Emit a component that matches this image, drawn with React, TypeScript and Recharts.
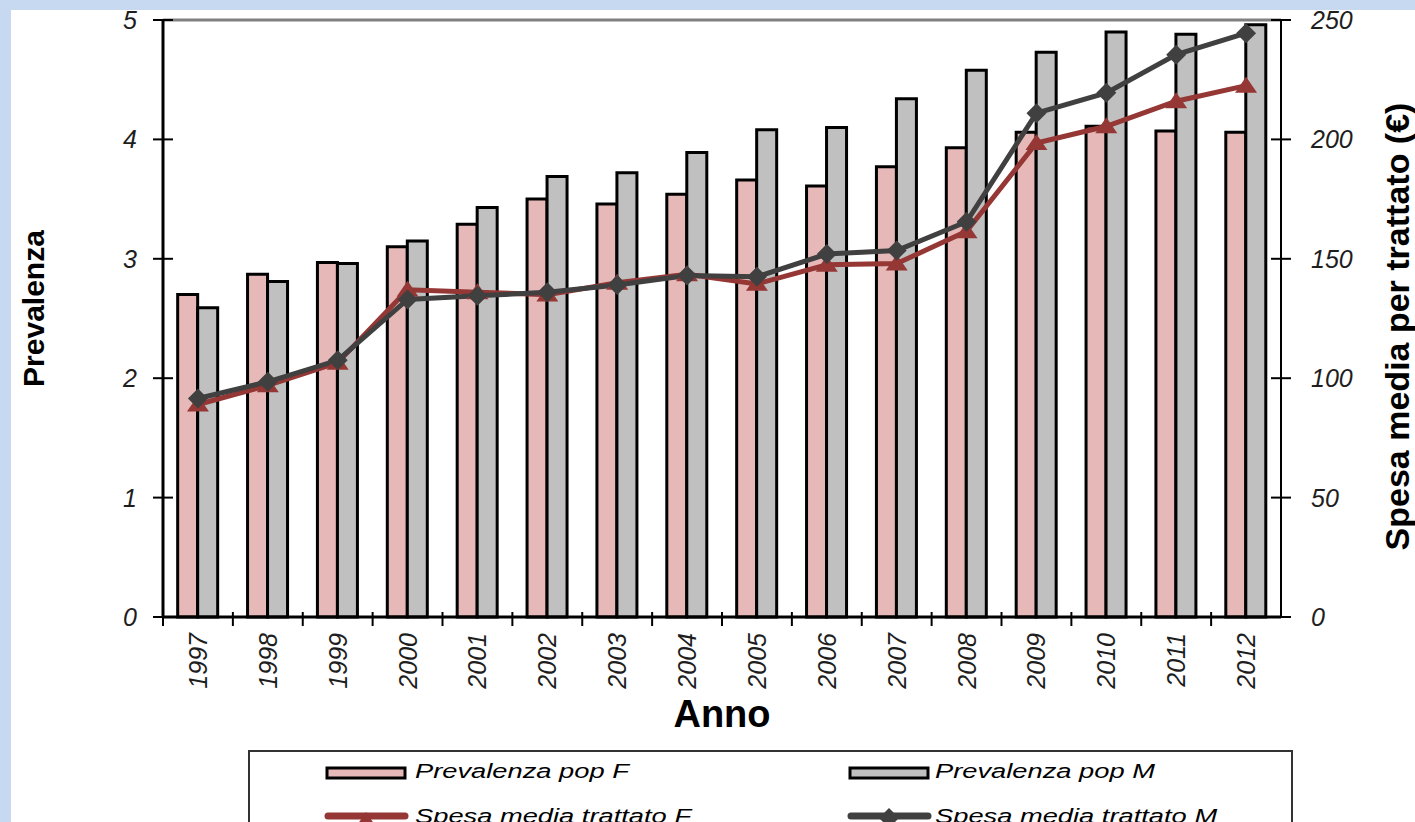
import React from "react";
import {
  ComposedChart,
  Bar,
  Line,
  XAxis,
  YAxis,
  ReferenceLine,
  Legend,
} from "recharts";

// Anni di osservazione
const years = [
  "1997", "1998", "1999", "2000", "2001", "2002", "2003", "2004",
  "2005", "2006", "2007", "2008", "2009", "2010", "2011", "2012",
];

// Prevalenza (%) per sesso
const prevalenzaF = [
  2.7, 2.87, 2.97, 3.1, 3.29, 3.5, 3.46, 3.54,
  3.66, 3.61, 3.77, 3.93, 4.06, 4.11, 4.07, 4.06,
];
const prevalenzaM = [
  2.59, 2.81, 2.96, 3.15, 3.43, 3.69, 3.72, 3.89,
  4.08, 4.1, 4.34, 4.58, 4.73, 4.9, 4.88, 4.96,
];

// Spesa media per trattato (€) per sesso
const spesaF = [
  89, 97, 106.5, 137, 136, 135, 140, 143.5,
  139.5, 147.5, 148, 161.5, 198.5, 205.5, 216, 222.5,
];
const spesaM = [
  91.5, 98.5, 107.5, 133, 134.5, 136, 139, 143,
  142.5, 152, 153.5, 165.5, 211, 219.5, 235.5, 244.5,
];

const leftTicks = [0, 1, 2, 3, 4, 5];
const rightTicks = [0, 50, 100, 150, 200, 250];

const seriesNames = {
  prevF: "Prevalenza pop F",
  prevM: "Prevalenza pop M",
  spesaF: "Spesa media trattato F",
  spesaM: "Spesa media trattato M",
};

const data = years.map((anno, i) => ({
  anno,
  prevF: prevalenzaF[i],
  prevM: prevalenzaM[i],
  spesaF: spesaF[i],
  spesaM: spesaM[i],
}));

const COLORS = {
  pink: "#e6b9b8",
  grey: "#c0c0c0",
  red: "#953735",
  dark: "#404040",
};

const W = 1415;
const H = 822;
const LEFT_AXIS_W = 163;
const RIGHT_AXIS_W = 134;
const PLOT_W = W - LEFT_AXIS_W - RIGHT_AXIS_W;
const BAND = PLOT_W / years.length;

const TICK_SIZE = 10;
const LEFT_GAP = 16;
const RIGHT_GAP = 20;
const BOTTOM_SIZE = 8;
const BOTTOM_GAP = 8;

const tickFont: React.CSSProperties = {
  fontFamily: "'Liberation Sans', Arial, sans-serif",
  fontStyle: "italic",
  fontSize: 25,
  fill: "#1e1e1e",
};

const titleFont: React.CSSProperties = {
  fontFamily: "'Liberation Sans', Arial, sans-serif",
  fontWeight: 700,
  fill: "#000",
};

function LeftTick(props: any) {
  const { x, y, payload } = props;
  const axisX = x + TICK_SIZE + LEFT_GAP;
  return (
    <g>
      <line x1={axisX - 10} x2={axisX + 10} y1={y} y2={y} stroke="#000" strokeWidth={2} />
      <text x={x} y={y} dy="0.36em" textAnchor="end" style={tickFont}>
        {payload.value}
      </text>
    </g>
  );
}

function RightTick(props: any) {
  const { x, y, payload } = props;
  const axisX = x - TICK_SIZE - RIGHT_GAP;
  return (
    <g>
      <line x1={axisX - 10} x2={axisX + 10} y1={y} y2={y} stroke="#000" strokeWidth={2} />
      <text x={x} y={y} dy="0.36em" textAnchor="start" style={tickFont}>
        {payload.value}
      </text>
    </g>
  );
}

// anni ruotati, con le tacche sui confini delle categorie
function YearTick(props: any) {
  const { x, y, payload } = props;
  const axisY = y - BOTTOM_SIZE - BOTTOM_GAP;
  const edge = x - BAND / 2;
  return (
    <g>
      <line x1={edge} x2={edge} y1={axisY - 5} y2={axisY + 9} stroke="#000" strokeWidth={2} />
      <text
        transform={`translate(${x},${y}) rotate(-90)`}
        dy="0.36em"
        textAnchor="end"
        style={tickFont}
      >
        {payload.value}
      </text>
    </g>
  );
}

function TriangleDot(props: any) {
  const { cx, cy, index } = props;
  if (cx == null || cy == null) return null;
  return (
    <path
      key={`tri-${index}`}
      d={`M${cx},${cy - 9} L${cx + 11},${cy + 7} L${cx - 11},${cy + 7} Z`}
      fill={COLORS.red}
    />
  );
}

function DiamondDot(props: any) {
  const { cx, cy, index } = props;
  if (cx == null || cy == null) return null;
  return (
    <path
      key={`dia-${index}`}
      d={`M${cx},${cy - 10} L${cx + 10},${cy} L${cx},${cy + 10} L${cx - 10},${cy} Z`}
      fill={COLORS.dark}
    />
  );
}

function LeftTitle(props: any) {
  const { viewBox } = props;
  const cx = viewBox.x + 33;
  const cy = viewBox.y + viewBox.height / 2 - 10;
  return (
    <text
      transform={`translate(${cx},${cy}) rotate(-90)`}
      textAnchor="middle"
      dy="0.36em"
      style={{ ...titleFont, fontSize: 30 }}
    >
      Prevalenza
    </text>
  );
}

function RightTitle(props: any) {
  const { viewBox } = props;
  const cx = viewBox.x + 116;
  const cy = viewBox.y + viewBox.height / 2 + 8;
  return (
    <text
      transform={`translate(${cx},${cy}) rotate(-90)`}
      textAnchor="middle"
      dy="0.36em"
      style={{ ...titleFont, fontSize: 34 }}
    >
      Spesa media per trattato (€)
    </text>
  );
}

function BottomTitle(props: any) {
  const { viewBox } = props;
  return (
    <text
      x={viewBox.x + viewBox.width / 2}
      y={viewBox.y + 110}
      textAnchor="middle"
      style={{ ...titleFont, fontSize: 38 }}
    >
      Anno
    </text>
  );
}

const legendText: React.CSSProperties = {
  fontFamily: "'Liberation Sans', Arial, sans-serif",
  fontStyle: "italic",
  fontSize: 21,
  fill: "#000",
};

function LegendLabel({ x, y, text }: { x: number; y: number; text: string }) {
  return (
    <text transform={`translate(${x},${y}) scale(1.3,1)`} style={legendText}>
      {text}
    </text>
  );
}

function LegendBox() {
  return (
    <svg width={1046} height={80} style={{ display: "block" }}>
      <rect x={1} y={1} width={1043} height={120} fill="#fff" stroke="#333" strokeWidth={2} />
      {/* riga 1: barre */}
      <rect x={79} y={18} width={78} height={10} fill={COLORS.pink} stroke="#000" strokeWidth={3} />
      <LegendLabel x={167} y={28} text={seriesNames.prevF} />
      <rect x={602} y={18} width={78} height={10} fill={COLORS.grey} stroke="#000" strokeWidth={3} />
      <LegendLabel x={687} y={28} text={seriesNames.prevM} />
      {/* riga 2: linee */}
      <line x1={80} x2={157} y1={66} y2={66} stroke={COLORS.red} strokeWidth={7} strokeLinecap="round" />
      <path d="M118,62 L129,78 L107,78 Z" fill={COLORS.red} />
      <LegendLabel x={167} y={73} text={seriesNames.spesaF} />
      <line x1={603} x2={680} y1={66} y2={66} stroke={COLORS.dark} strokeWidth={7} strokeLinecap="round" />
      <path d="M641,58 L651,68 L641,78 L631,68 Z" fill={COLORS.dark} />
      <LegendLabel x={687} y={73} text={seriesNames.spesaM} />
    </svg>
  );
}

export default function App() {
  return (
    <div
      style={{
        position: "fixed",
        left: 0,
        top: 0,
        width: W,
        height: H,
        overflow: "hidden",
        background: "#c6d9f0",
      }}
    >
      <div
        style={{
          position: "absolute",
          left: 11,
          top: 10,
          right: 0,
          bottom: 0,
          background: "#fff",
        }}
      />
      <div style={{ position: "absolute", left: 0, top: 0 }}>
        <ComposedChart
          width={W}
          height={H}
          data={data}
          margin={{ top: 20, right: 0, bottom: 0, left: 0 }}
          barCategoryGap="21%"
          barGap={0}
        >
          <XAxis
            dataKey="anno"
            height={205}
            interval={0}
            axisLine={{ stroke: "#000", strokeWidth: 3 }}
            tickLine={false}
            tickSize={BOTTOM_SIZE}
            tickMargin={BOTTOM_GAP}
            tick={<YearTick />}
            label={<BottomTitle />}
          />
          <YAxis
            yAxisId="left"
            orientation="left"
            width={LEFT_AXIS_W}
            domain={[0, 5]}
            ticks={leftTicks}
            interval={0}
            axisLine={{ stroke: "#000", strokeWidth: 3 }}
            tickLine={false}
            tickSize={TICK_SIZE}
            tickMargin={LEFT_GAP}
            tick={<LeftTick />}
            label={<LeftTitle />}
          />
          <YAxis
            yAxisId="right"
            orientation="right"
            width={RIGHT_AXIS_W}
            domain={[0, 250]}
            ticks={rightTicks}
            interval={0}
            axisLine={{ stroke: "#000", strokeWidth: 2 }}
            tickLine={false}
            tickSize={TICK_SIZE}
            tickMargin={RIGHT_GAP}
            tick={<RightTick />}
            label={<RightTitle />}
          />
          <ReferenceLine yAxisId="left" y={5} stroke="#808080" strokeWidth={3} />
          <Bar
            yAxisId="left"
            dataKey="prevF"
            name={seriesNames.prevF}
            fill={COLORS.pink}
            stroke="#000"
            strokeWidth={3}
            isAnimationActive={false}
          />
          <Bar
            yAxisId="left"
            dataKey="prevM"
            name={seriesNames.prevM}
            fill={COLORS.grey}
            stroke="#000"
            strokeWidth={3}
            isAnimationActive={false}
          />
          <Line
            yAxisId="right"
            dataKey="spesaF"
            name={seriesNames.spesaF}
            type="linear"
            stroke={COLORS.red}
            strokeWidth={5}
            dot={TriangleDot}
            activeDot={false}
            isAnimationActive={false}
          />
          <Line
            yAxisId="right"
            dataKey="spesaM"
            name={seriesNames.spesaM}
            type="linear"
            stroke={COLORS.dark}
            strokeWidth={5}
            dot={DiamondDot}
            activeDot={false}
            isAnimationActive={false}
          />
          <Legend
            layout="horizontal"
            verticalAlign="middle"
            align="center"
            content={() => <LegendBox />}
            wrapperStyle={{
              position: "absolute",
              left: 248,
              top: 750,
              width: 1046,
              height: 80,
            }}
          />
        </ComposedChart>
      </div>
    </div>
  );
}
